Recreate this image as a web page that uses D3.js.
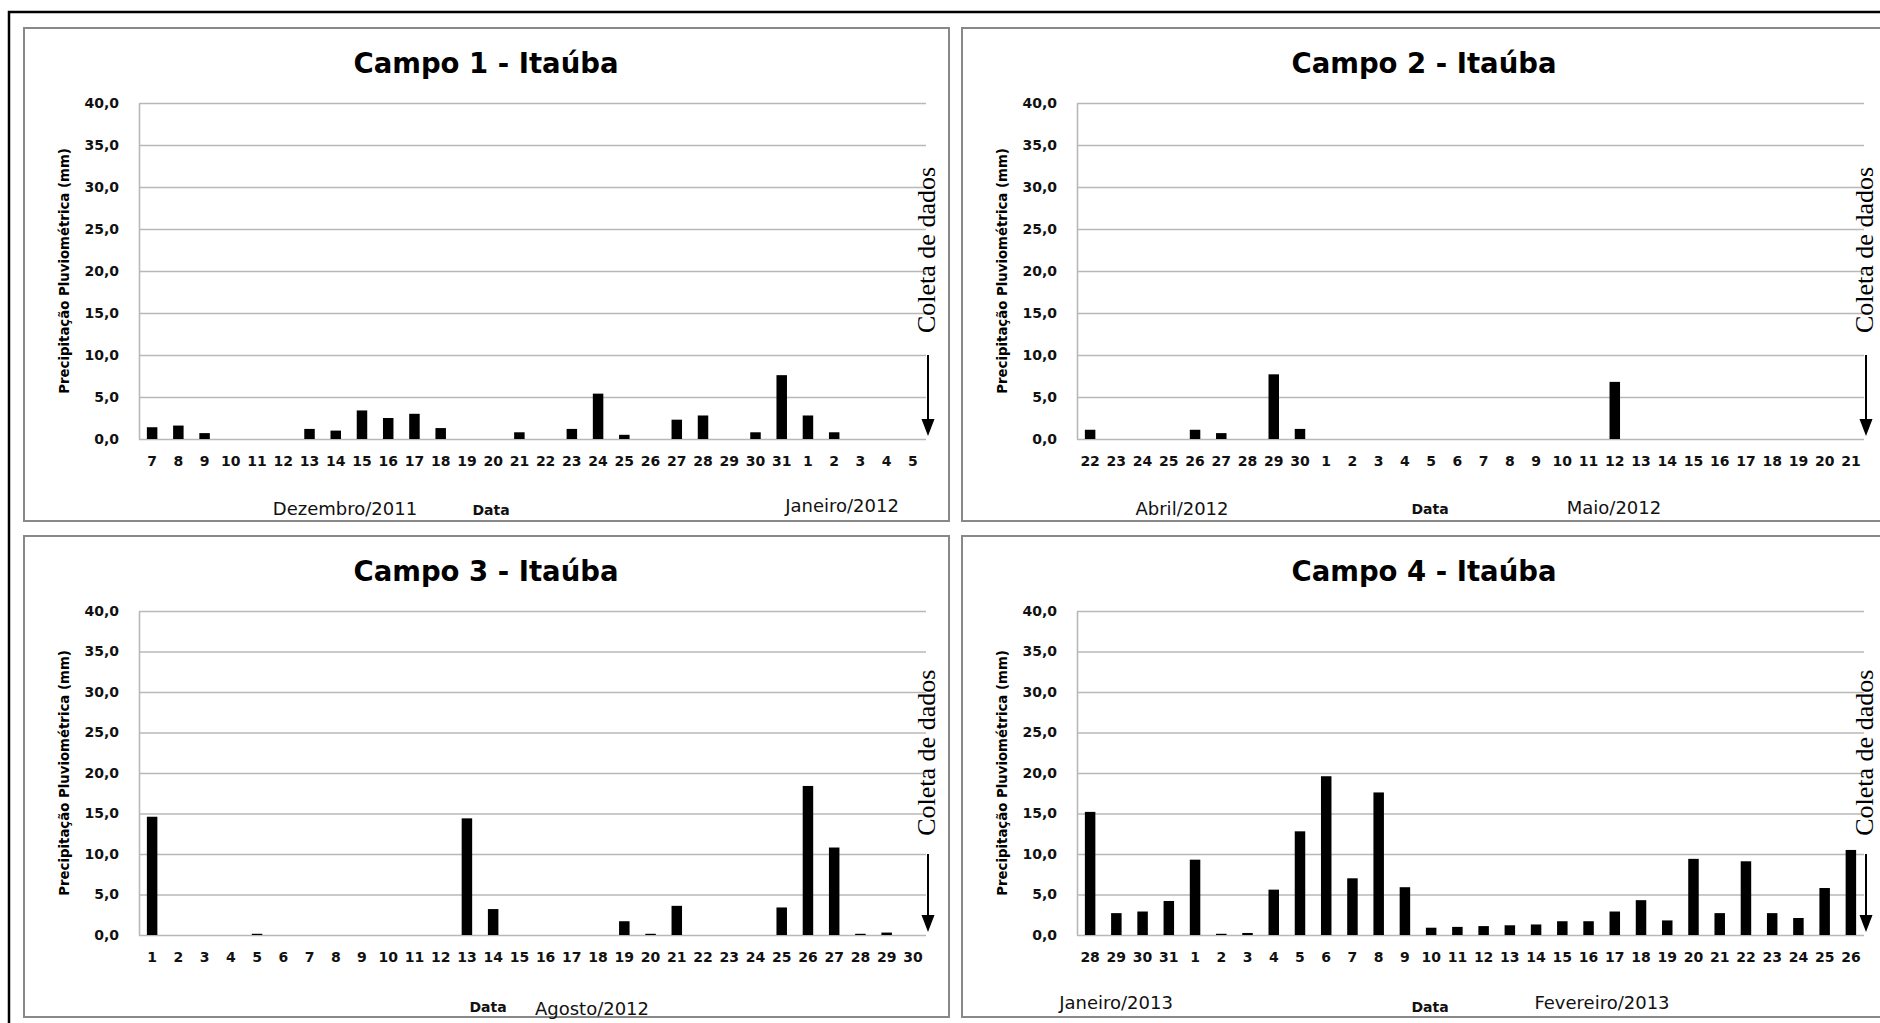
<!DOCTYPE html>
<html><head><meta charset="utf-8">
<script src="https://cdn.jsdelivr.net/npm/d3@7/dist/d3.min.js"></script>
<style>body{margin:0;background:#fff;} svg{display:block;}</style>
</head><body>
<svg id="chart" width="1880" height="1023"></svg>
<script>
// ---------- data ----------
const yTicks = [0, 5, 10, 15, 20, 25, 30, 35, 40];
const titles = ["Campo 1 - Itaúba", "Campo 2 - Itaúba", "Campo 3 - Itaúba", "Campo 4 - Itaúba"];
const yTitle = "Precipitação Pluviométrica (mm)";
const noteText = "Coleta de dados";

const days1 = ["7","8","9","10","11","12","13","14","15","16","17","18","19","20","21","22","23","24","25","26","27","28","29","30","31","1","2","3","4","5"];
const rain1 = [1.4,1.6,0.7,0,0,0,1.2,1.0,3.4,2.5,3.0,1.3,0,0,0.8,0,1.2,5.4,0.5,0,2.3,2.8,0,0.8,7.6,2.8,0.8,0,0,0];

const days2 = ["22","23","24","25","26","27","28","29","30","1","2","3","4","5","6","7","8","9","10","11","12","13","14","15","16","17","18","19","20","21"];
const rain2 = [1.1,0,0,0,1.1,0.7,0,7.7,1.2,0,0,0,0,0,0,0,0,0,0,0,6.8,0,0,0,0,0,0,0,0,0];

const days3 = ["1","2","3","4","5","6","7","8","9","10","11","12","13","14","15","16","17","18","19","20","21","22","23","24","25","26","27","28","29","30"];
const rain3 = [14.6,0,0,0,0.15,0,0,0,0,0,0,0,14.4,3.2,0,0,0,0,1.7,0.15,3.6,0,0,0,3.4,18.4,10.8,0.15,0.3,0];

const days4 = ["28","29","30","31","1","2","3","4","5","6","7","8","9","10","11","12","13","14","15","16","17","18","19","20","21","22","23","24","25","26"];
const rain4 = [15.2,2.7,2.9,4.2,9.3,0.15,0.25,5.6,12.8,19.6,7.0,17.6,5.9,0.9,1.0,1.1,1.2,1.3,1.7,1.7,2.9,4.3,1.8,9.4,2.7,9.1,2.7,2.1,5.8,10.5];

const monthLabels1 = ["Dezembro/2011", "Data", "Janeiro/2012"];
const monthLabels2 = ["Abril/2012", "Data", "Maio/2012"];
const monthLabels3 = ["Data", "Agosto/2012"];
const monthLabels4 = ["Janeiro/2013", "Data", "Fevereiro/2013"];

// ---------- layout ----------
const panels = [
  {box:{x:24,y:28,w:925,h:493}, days:days1, rain:rain1, title:titles[0], labels:monthLabels1,
   labelPos:[[321,-13],[467,-11],[818,-16]]},
  {box:{x:962,y:28,w:925,h:493}, days:days2, rain:rain2, title:titles[1], labels:monthLabels2,
   labelPos:[[220,-13],[468,-12],[652,-14]]},
  {box:{x:24,y:536,w:925,h:481}, days:days3, rain:rain3, title:titles[2], labels:monthLabels3,
   labelPos:[[464,-10],[568,-9]]},
  {box:{x:962,y:536,w:925,h:481}, days:days4, rain:rain4, title:titles[3], labels:monthLabels4,
   labelPos:[[154,-15],[468,-10],[640,-15]]}
];

const svg = d3.select("#chart");
svg.append("rect").attr("width",1880).attr("height",1023).attr("fill","#fff");

// outer frame
svg.append("rect").attr("x",9).attr("y",12).attr("width",1900).attr("height",1100)
  .attr("fill","none").attr("stroke","#000").attr("stroke-width",2.5);

const fmt = v => d3.format(".1f")(v).replace(".", ",");

panels.forEach(p => {
  const b = p.box;
  const g = svg.append("g");
  g.append("rect").attr("x",b.x).attr("y",b.y).attr("width",b.w).attr("height",b.h)
    .attr("fill","#fff").attr("stroke","#888").attr("stroke-width",2);

  const left = b.x + 115, right = b.x + 902;
  const top = b.y + 75, bottom = b.y + b.h - 82;

  const x = d3.scaleBand().domain(d3.range(p.days.length)).range([left, right])
    .paddingInner(0.6).paddingOuter(0.3);
  const y = d3.scaleLinear().domain([0, 40]).range([bottom, top]);

  // gridlines
  const grid = g.append("g").attr("transform",`translate(${left},0)`)
    .call(d3.axisLeft(y).tickValues(yTicks).tickSize(-(right-left)).tickFormat(""));
  grid.select(".domain").remove();
  grid.selectAll("line").attr("stroke","#b8b8b8").attr("stroke-width",1.6);

  // y axis
  const ya = g.append("g").attr("transform",`translate(${left},0)`)
    .call(d3.axisLeft(y).tickValues(yTicks).tickSize(0).tickPadding(20).tickFormat(fmt));
  ya.select(".domain").attr("stroke","#b8b8b8").attr("stroke-width",1.6);
  ya.selectAll("text").attr("font-family","DejaVu Sans").attr("font-weight","bold")
    .attr("font-size",14).attr("fill","#111");

  // bars
  g.append("g").selectAll("rect").data(p.rain).join("rect")
    .attr("x",(d,i)=>x(i)).attr("width",x.bandwidth())
    .attr("y",d=>y(d)).attr("height",d=>y(0)-y(d)).attr("fill","#000");

  // x axis
  const xa = g.append("g").attr("transform",`translate(0,${bottom})`)
    .call(d3.axisBottom(x).tickSize(0).tickPadding(17).tickFormat(i=>p.days[i]));
  xa.select(".domain").remove();
  xa.selectAll("text").attr("font-family","DejaVu Sans").attr("font-weight","bold")
    .attr("font-size",14).attr("fill","#111");

  // title
  g.append("text").attr("x",b.x + 462).attr("y",b.y + 35).attr("text-anchor","middle")
    .attr("dominant-baseline","central").attr("font-family","DejaVu Sans").attr("font-weight","bold")
    .attr("font-size",27.5).attr("fill","#000").text(p.title);

  // y title
  g.append("text").attr("transform",`translate(${b.x+40},${(top+bottom)/2}) rotate(-90)`)
    .attr("text-anchor","middle").attr("dominant-baseline","central")
    .attr("font-family","DejaVu Sans").attr("font-weight","bold").attr("font-size",13.3)
    .attr("fill","#000").text(yTitle);

  // month / axis labels
  p.labels.forEach((t,i) => {
    const isData = t === "Data";
    g.append("text").attr("x", b.x + p.labelPos[i][0]).attr("y", b.y + b.h + p.labelPos[i][1])
      .attr("text-anchor","middle").attr("dominant-baseline","central")
      .attr("font-family","DejaVu Sans").attr("font-weight", isData ? "bold" : "normal")
      .attr("font-size", isData ? 14 : 18).attr("fill","#111").text(t);
  });

  // arrow annotation
  const ax = right + 2;
  const tipY = y(0) - 3;
  g.append("line").attr("x1",ax).attr("x2",ax).attr("y1",y(10)).attr("y2",tipY - 12)
    .attr("stroke","#000").attr("stroke-width",2);
  g.append("path").attr("d",`M${ax-6.5},${tipY-17} L${ax+6.5},${tipY-17} L${ax},${tipY} Z`).attr("fill","#000");

  g.append("text").attr("transform",`translate(${ax+7},${y(22.5)}) rotate(-90)`)
    .attr("text-anchor","middle").attr("font-family","Liberation Serif")
    .attr("font-size",26).attr("fill","#000").text(noteText);
});
</script>
</body></html>
